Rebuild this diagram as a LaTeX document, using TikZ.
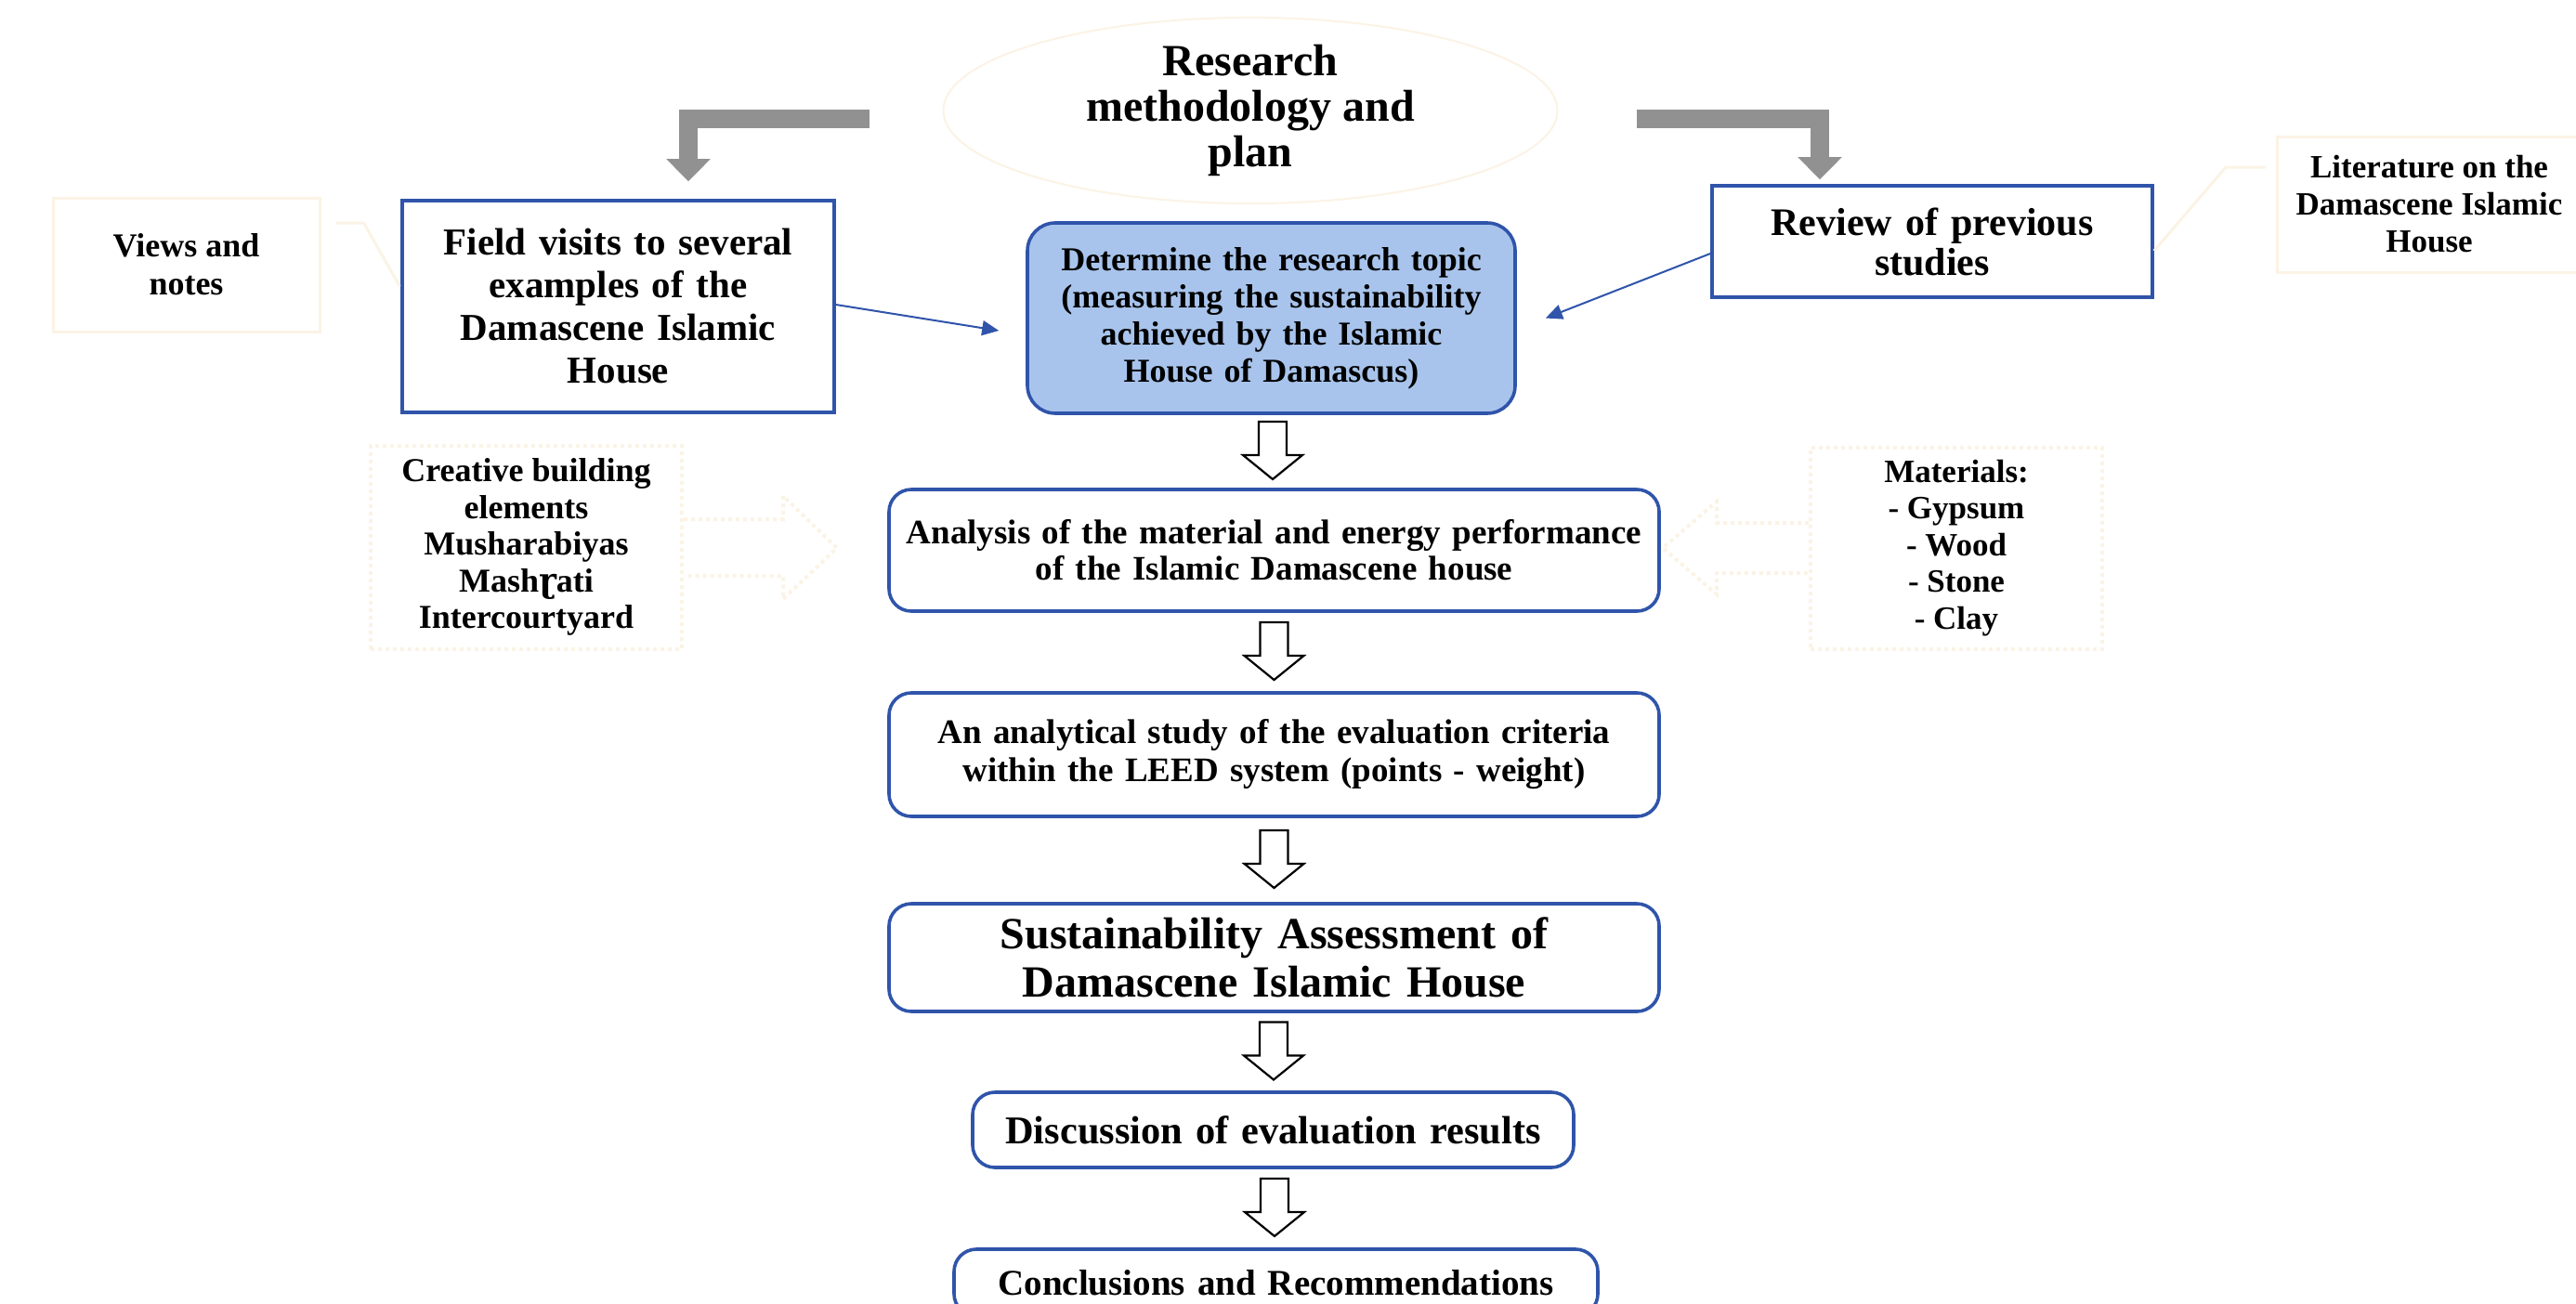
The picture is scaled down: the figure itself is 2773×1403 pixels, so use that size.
\documentclass[tikz,border=0pt]{standalone}
\usepackage{fontspec}
\setmainfont{Liberation Serif}
\newfontfamily\ipafont{DejaVu Serif}
\usetikzlibrary{arrows.meta,calc,shapes.geometric}
\definecolor{bblue}{RGB}{47,84,170}
\definecolor{dfill}{RGB}{168,196,236}
\definecolor{garr}{RGB}{145,145,145}
\definecolor{faint}{RGB}{251,243,229}
\newcommand\myfs[2]{\fontsize{#1}{#2}\selectfont}
\tikzset{
  mainbox/.style={draw=bblue, line width=1.8pt, fill=white, align=center, inner sep=0pt},
  faintbox/.style={draw=faint, line width=1.5pt, align=center, inner sep=0pt},
  faintdot/.style={draw=faint, line width=2pt, dotted, align=center, inner sep=0pt},
  faintline/.style={draw=faint, line width=1.5pt},
  grayarr/.style={draw=garr, line width=10pt, -{Triangle[width=23pt,length=12pt]}},
  bluearr/.style={draw=bblue, line width=1pt, -{Triangle[width=8pt,length=9pt]}},
  hollow/.pic={\draw[line width=1.1pt, fill=white, line join=miter]
     (-15,-32) -- (15,-32) -- (15,4) -- (32,4) -- (0,30) -- (-32,4) -- (-15,4) -- cycle;}
}
\begin{document}
\begin{tikzpicture}[x=0.5pt,y=-0.5pt]
\useasboundingbox (0,0) rectangle (2773,1403);
\clip (0,0) rectangle (2773,1403);
\fill[white] (0,0) rectangle (2773,1403);

% top ellipse
\node[ellipse, draw=faint, line width=1pt, minimum width=330.5pt, minimum height=88.5pt,
      align=center, inner sep=0pt, font=\bfseries\myfs{24}{24.5}] (ell) at (1346,119)
      {Research\\methodology and\\plan};

% main boxes
\node[mainbox, minimum width=232.5pt, minimum height=114pt, text width=225pt,
      font=\bfseries\myfs{20.5}{23}] (field) at (665.5,330)
      {Field visits to several\\examples of the\\Damascene Islamic\\House};
\node[mainbox, minimum width=237pt, minimum height=60pt, text width=230pt,
      font=\bfseries\myfs{21}{21.5}] (review) at (2080,260)
      {Review of previous\\studies};
\node[mainbox, fill=dfill, rounded corners=15pt, minimum width=262.5pt, minimum height=102.5pt,
      text width=255pt, font=\bfseries\myfs{18}{20}] (det) at (1368.5,342.5)
      {Determine the research topic\\(measuring the sustainability\\achieved by the Islamic\\House of Damascus)};
\node[mainbox, rounded corners=12pt, minimum width=414.5pt, minimum height=65.5pt,
      text width=405pt, font=\bfseries\myfs{18.5}{19.5}] (ana) at (1371.5,592.5)
      {Analysis of the material and energy performance\\of the Islamic Damascene house};
\node[mainbox, rounded corners=12pt, minimum width=414.5pt, minimum height=66.5pt,
      text width=405pt, font=\bfseries\myfs{18.5}{20.5}] (leed) at (1371.5,812.5)
      {An analytical study of the evaluation criteria\\within the LEED system (points - weight)};
\node[mainbox, rounded corners=12pt, minimum width=414.5pt, minimum height=58pt,
      text width=405pt, font=\bfseries\myfs{24}{26}] (sus) at (1371.5,1031)
      {Sustainability Assessment of\\Damascene Islamic House};
\node[mainbox, rounded corners=12pt, minimum width=323.5pt, minimum height=40.5pt,
      text width=315pt, font=\bfseries\myfs{21.2}{22}] (disc) at (1370.5,1216.5)
      {Discussion of evaluation results};
\node[mainbox, rounded corners=12pt, minimum width=346.5pt, minimum height=36pt,
      text width=340pt, font=\bfseries\myfs{19.5}{22}] (conc) at (1373.5,1381)
      {Conclusions and Recommendations};

% faint side notes
\node[faintbox, minimum width=143.5pt, minimum height=72pt,
      font=\bfseries\myfs{18}{20.5}] (views) at (200.5,285) {Views and\\notes};
\node[faintbox, minimum width=163.5pt, minimum height=73pt,
      font=\bfseries\myfs{17.5}{20}] (lit) at (2615,220)
      {Literature on the\\Damascene Islamic\\House};
\node[faintdot, minimum width=167.5pt, minimum height=109.5pt,
      font=\bfseries\myfs{18}{19.75}] (cre) at (566.5,589)
      {Creative building\\elements\\Musharabiyas\\Mash{\ipafont ɽ}ati\\Intercourtyard};
\node[faintdot, minimum width=157pt, minimum height=108.5pt,
      font=\bfseries\myfs{17.5}{19.75}] (mat) at (2106,590)
      {Materials:\\- Gypsum\\- Wood\\- Stone\\- Clay};

% faint connectors
\draw[faintline] ($(views.east)+(16,-45)$) -- ++(30,0) -- ($(field.west)+(-1,-22)$);
\draw[faintline] ($(review.east)+(0,10)$) -- ($(lit.west)+(-54,-40)$) -- ($(lit.west)+(-11,-40)$);
\draw[faintdot] ($(cre.east)+(0,-30)$) -- ++(107,0) -- ++(0,-25) -- ($(cre.east)+(165,1)$)
   -- ($(cre.east)+(107,56)$) -- ++(0,-25) -- ($(cre.east)+(0,31)$);
\draw[faintdot] ($(mat.west)+(0,-27)$) -- ++(-99,0) -- ++(0,-23) -- ($(mat.west)+(-157,0)$)
   -- ($(mat.west)+(-99,50)$) -- ++(0,-23) -- ($(mat.west)+(0,27)$);

% gray elbow arrows
\draw[grayarr] ($(ell.west)+(-79,8.5)$) -| ($(field.north)+(75.5,-19)$);
\draw[grayarr] ($(ell.east)+(84,8.5)$) -| ($(review.north)+(-121,-5)$);

% blue arrows
\draw[bluearr] ($(field.east)+(0,-2)$) -- ($(det.west)+(-29,13.5)$);
\draw[bluearr] ($(review.west)+(0,13)$) -- ($(det.east)+(31,0)$);

% hollow down arrows
\coordinate (m1) at ($(det.south)!0.5!(ana.north)$);
\coordinate (m2) at ($(ana.south)!0.5!(leed.north)$);
\coordinate (m3) at ($(leed.south)!0.5!(sus.north)$);
\coordinate (m4) at ($(sus.south)!0.5!(disc.north)$);
\coordinate (m5) at ($(disc.south)!0.5!(conc.north)$);
\foreach \m in {m1,m2,m3,m4,m5} {\pic at (\m) {hollow};}
\end{tikzpicture}
\end{document}
